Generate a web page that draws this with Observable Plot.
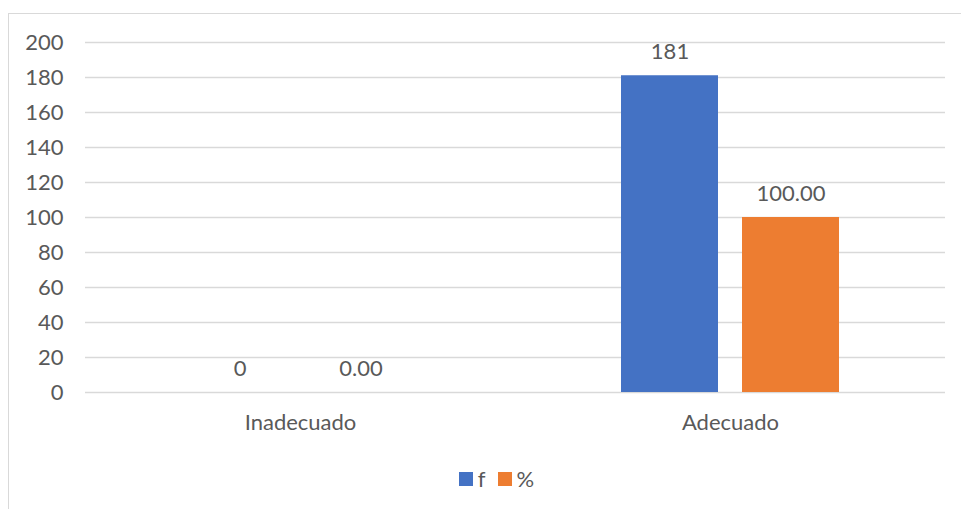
<!DOCTYPE html>
<html>
<head>
<meta charset="utf-8">
<script src="https://cdn.jsdelivr.net/npm/d3@7"></script>
<script src="https://cdn.jsdelivr.net/npm/@observablehq/plot@0.6"></script>
<style>
  html, body { margin: 0; padding: 0; background: #fff; overflow: hidden; }
  body { width: 961px; height: 509px; position: relative; font-family: Lato, "Open Sans", sans-serif; }
  #frame { position: absolute; left: 8px; top: 13px; width: 1000px; height: 1000px; border: 1px solid #d9d9d9; }
  #chart { position: absolute; left: 0; top: 0; }
  #legend { position: absolute; left: 16px; top: 465px; width: 961px; display: flex; justify-content: center; gap: 12px; font-size: 22px; color: #595959; }
  .item { display: flex; align-items: center; gap: 5px; }
  .sw { width: 14px; height: 14px; display: inline-block; }
</style>
</head>
<body>
<div id="frame"></div>
<div id="chart"></div>
<div id="legend"></div>
<script>
const categories = ["Inadecuado", "Adecuado"];
const series = ["f", "%"];
const fValues = [0, 181];
const pctValues = [0.00, 100.00];
const colors = ["#4472C4", "#ED7D31"];
const yTicks = [0, 20, 40, 60, 80, 100, 120, 140, 160, 180, 200];

const data = [];
categories.forEach((c, i) => {
  data.push({category: c, series: "f", value: fValues[i], label: d3.format("d")(fValues[i])});
  data.push({category: c, series: "%", value: pctValues[i], label: d3.format(".2f")(pctValues[i])});
});

const textColor = "#595959";

const plot = Plot.plot({
  width: 961,
  height: 455,
  marginLeft: 85,
  marginRight: 16,
  marginTop: 42,
  marginBottom: 63,
  style: {fontFamily: "Lato, 'Open Sans', sans-serif", fontSize: "22px", color: textColor, background: "transparent"},
  fx: {domain: categories, padding: 0, label: null, axis: "bottom", tickSize: 0, tickPadding: 22},
  x: {domain: series, axis: null, paddingInner: 0.2, paddingOuter: 0.864},
  y: {domain: [0, 200], ticks: yTicks, label: null},
  color: {domain: series, range: colors},
  marks: [
    Plot.gridY(yTicks, {stroke: "#d9d9d9", strokeOpacity: 1, strokeWidth: 1.3}),
    Plot.axisY(yTicks, {tickSize: 0, tickPadding: 22, label: null, fontSize: 22, fill: textColor}),
    Plot.barY(data, {fx: "category", x: "series", y: "value", fill: "series"}),
    Plot.text(data, {fx: "category", x: "series", y: "value", text: "label", dy: -24, lineAnchor: "middle", textAnchor: "middle", fill: textColor, fontSize: 22})
  ]
});
document.getElementById("chart").appendChild(plot);

const legend = document.getElementById("legend");
series.forEach((s, i) => {
  const item = document.createElement("div");
  item.className = "item";
  const sw = document.createElement("span");
  sw.className = "sw";
  sw.style.background = colors[i];
  const t = document.createElement("span");
  t.textContent = s;
  item.appendChild(sw);
  item.appendChild(t);
  legend.appendChild(item);
});
</script>
</body>
</html>
